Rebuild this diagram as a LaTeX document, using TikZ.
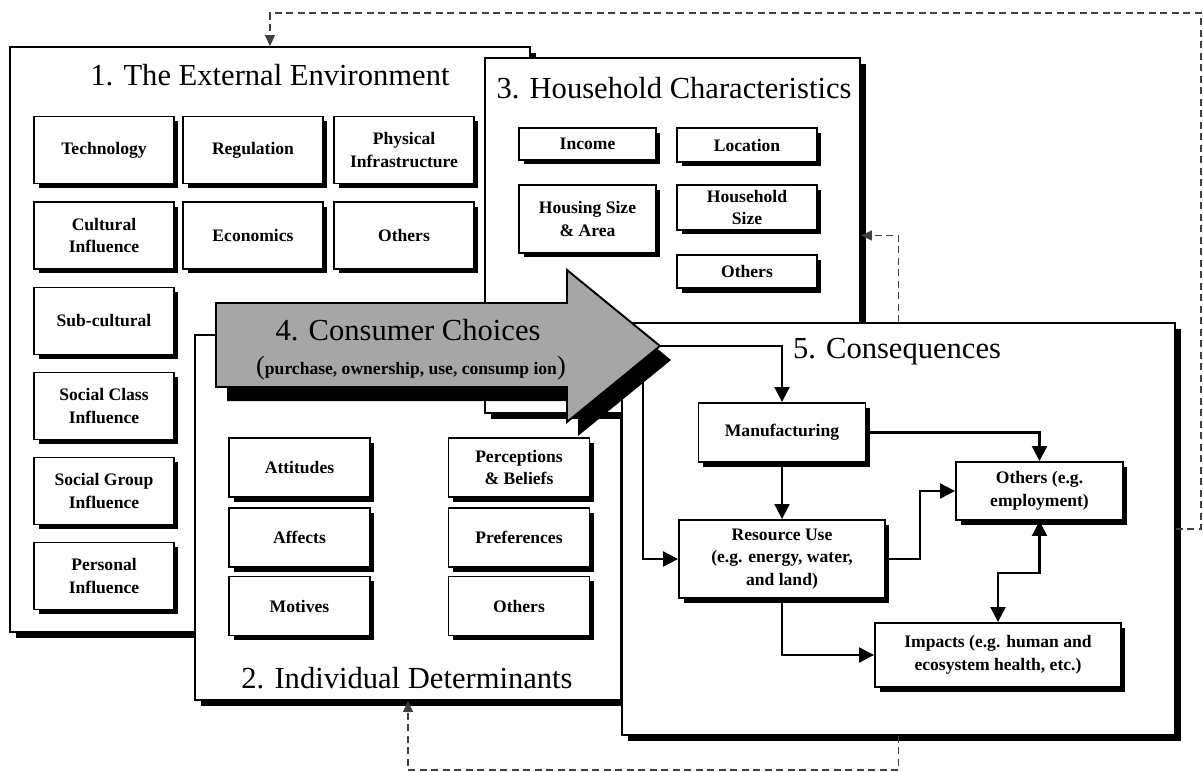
\documentclass[tikz,border=0pt]{standalone}
\usepackage{fontspec}
\setmainfont{Liberation Serif}
\usepackage{tikz}
\usetikzlibrary{shapes, arrows.meta, positioning, shadows}

\tikzset{
  bigbox/.style={draw, rectangle, line width=1.1pt, fill=white,
    drop shadow={shadow xshift=0.12cm, shadow yshift=-0.12cm, fill=black, opacity=1}},
  itembox/.style={draw, rectangle, line width=1.1pt, fill=white, align=center, inner sep=1pt,
    font=\fontsize{10}{13}\selectfont\bfseries,
    drop shadow={shadow xshift=0.09cm, shadow yshift=-0.09cm, fill=black, opacity=1}},
  envitem/.style={itembox, minimum width=2.8cm, minimum height=1.34cm},
  inditem/.style={itembox, minimum width=2.82cm, minimum height=1.18cm},
  heading/.style={font=\fontsize{17.4}{20}\selectfont},
  conn/.style={line width=1.2pt, -{Triangle[length=0.3cm, width=0.3cm]}},
  feedback/.style={draw=black!75, line width=0.7pt, dash pattern=on 0.14cm off 0.09cm,
    -{Triangle[length=0.22cm, width=0.2cm]}}
}

\begin{document}
\begin{tikzpicture}[x=0.02cm, y=-0.02cm]
\useasboundingbox (0,0) rectangle (1203,771);

% 1. The external environment
\node[bigbox, minimum width=10.4cm, minimum height=11.7cm] (env) at (270,339.5) {};
\node[heading] (envtitle) at (270,75) {1. The External Environment};
\node[envitem] (tech) at (104,150) {Technology};
\node[envitem] (regul) at (253,150) {Regulation};
\node[envitem] (infra) at (404,150) {Physical\\Infrastructure};
\node[envitem] (cult) at (104,235.5) {Cultural\\Influence};
\node[envitem] (econ) at (253,235.5) {Economics};
\node[envitem] (envother) at (404,235.5) {Others};
\node[envitem] (subcult) at (104,321) {Sub-cultural};
\node[envitem] (socclass) at (104,406) {Social Class\\Influence};
\node[envitem] (socgroup) at (104,491) {Social Group\\Influence};
\node[envitem] (personal) at (104,576) {Personal\\Influence};

% 2. Individual determinants
\node[bigbox, minimum width=8.52cm, minimum height=7.3cm] (indiv) at (408,517.5) {};
\node[heading] (indivtitle) at (407,678) {2. Individual Determinants};
\node[inditem] (att) at (299.5,467.5) {Attitudes};
\node[inditem] (aff) at (299.5,537.5) {Affects};
\node[inditem] (mot) at (299.5,606) {Motives};
\node[inditem] (perc) at (519,467.5) {Perceptions\\\& Beliefs};
\node[inditem] (pref) at (519,537.5) {Preferences};
\node[inditem] (indother) at (519,606) {Others};

% 3. Household characteristics
\node[bigbox, minimum width=7.5cm, minimum height=7.1cm] (house) at (672.5,235.5) {};
\node[heading] (housetitle) at (674,88) {3. Household Characteristics};
\node[itembox, minimum width=2.74cm, minimum height=0.64cm] (income) at (587.5,144) {Income};
\node[itembox, minimum width=2.8cm, minimum height=0.68cm] (location) at (747,145) {Location};
\node[itembox, minimum width=2.74cm, minimum height=1.36cm] (housing) at (587.5,219) {Housing Size\\\& Area};
\node[itembox, minimum width=2.8cm, minimum height=0.9cm] (hhsize) at (747,207.5) {Household\\Size};
\node[itembox, minimum width=2.8cm, minimum height=0.66cm] (houseother) at (747,271.5) {Others};

% 5. Consequences
\node[bigbox, minimum width=11.06cm, minimum height=8.24cm] (cons) at (898.5,529) {};
\node[heading] (constitle) at (897,352) {5. Consequences};
\node[itembox, minimum width=3.34cm, minimum height=1.18cm] (manu) at (782,432.5) {Manufacturing};
\node[itembox, minimum width=4.12cm, minimum height=1.56cm] (res) at (782,559) {Resource Use\\(e.g. energy, water,\\and land)};
\node[itembox, minimum width=3.34cm, minimum height=1.16cm] (consother) at (1039.5,491) {Others (e.g.\\employment)};
\node[itembox, minimum width=4.92cm, minimum height=1.28cm] (impacts) at (998,655) {Impacts (e.g. human and\\ecosystem health, etc.)};

\draw[conn] (manu.south) -- (res.north);
\draw[conn] (manu.east) -| (consother.north);
\draw[conn] (res.east) -- ++(34,0) |- (consother.west);
\draw[conn] (res.south) |- (impacts.west);
\draw[line width=1.2pt, {Triangle[length=0.3cm, width=0.3cm]}-{Triangle[length=0.3cm, width=0.3cm]}]
  (consother.south) -- ++(0,52) -| (impacts.north);

% choices feed the consequences
\coordinate (tip) at (660,346);
\coordinate (under) at (643,365);
\draw[conn] (tip) -| (manu.north);
\draw[conn] (under) |- (res.west);

% feedback loops
\draw[feedback] (cons.east) -- (1201,529) -- (1201,13) -| (env.north);
\draw[feedback] (cons.north) |- (house.east);
\draw[feedback] (cons.south) -- ++(0,34) -| (indiv.south);

% 4. Consumer choices arrow
\draw[line width=1.1pt, fill=black!35,
  drop shadow={shadow xshift=0.22cm, shadow yshift=-0.28cm, fill=black, opacity=1}]
  (216,303) -- (567,303) -- (567,270) -- (tip) -- (567,422) -- (567,387) -- (216,387) -- cycle;
\node[heading] (choices) at (408,330) {4. Consumer Choices};
\node[font=\fontsize{10}{12}\selectfont\bfseries] (choicesub) at (411,368)
  {{\mdseries\fontsize{15}{15}\selectfont(}purchase, ownership, use, consump ion{\mdseries\fontsize{15}{15}\selectfont)}};
\end{tikzpicture}
\end{document}
